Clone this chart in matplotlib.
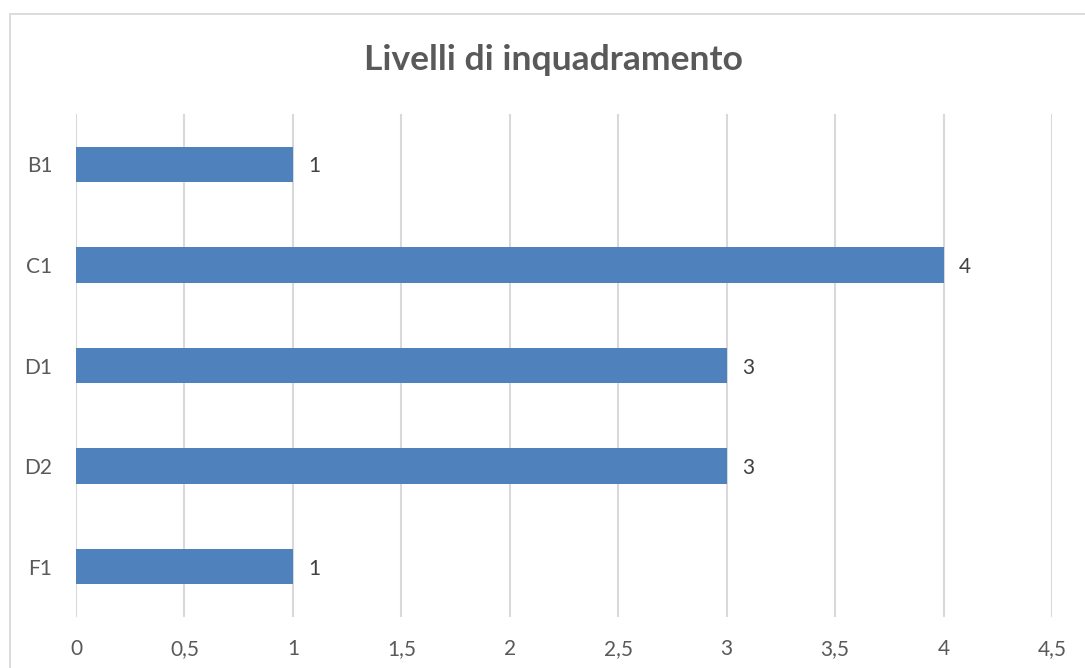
import matplotlib
matplotlib.use("Agg")
import matplotlib.pyplot as plt
from matplotlib.patches import Rectangle
from matplotlib.ticker import FuncFormatter

categories = ["B1", "C1", "D1", "D2", "F1"]
values = [1, 4, 3, 3, 1]
xticks = [0, 0.5, 1, 1.5, 2, 2.5, 3, 3.5, 4, 4.5]
title = "Livelli di inquadramento"

plt.rcParams['font.family'] = ['Lato', 'DejaVu Sans']

fig = plt.figure(figsize=(10.85, 6.68), dpi=100)
fig.patch.set_facecolor('white')
fig.patches.append(Rectangle((10/1085, -0.1), 1.2, 1 - 14/668 + 0.1, transform=fig.transFigure,
                             fill=False, edgecolor='#d9d9d9', linewidth=1.3))

ax = fig.add_axes([76/1085, 1 - 617/668, (1052-76)/1085, (617-114)/668])
ypos = list(range(len(categories)))
ax.barh(ypos, values, height=0.35, color='#4f81bd', zorder=3)
for y, v in zip(ypos, values):
    ax.text(v + 0.07, y + 0.02, f"{v}", va='center', ha='left', fontsize=15, color='#404040')

ax.set_xlim(0, 4.5)
ax.set_ylim(len(categories) - 0.5, -0.5)
ax.set_yticks(ypos)
ax.set_yticklabels(categories)
ax.set_xticks(xticks)
ax.xaxis.set_major_formatter(FuncFormatter(lambda x, p: (f"{x:g}").replace('.', ',')))
ax.grid(axis='x', color='#d9d9d9', linewidth=1.5, zorder=0)
ax.grid(axis='y', visible=False)
for s in ax.spines.values():
    s.set_visible(False)
ax.tick_params(axis='both', length=0, labelsize=15, labelcolor='#595959')
ax.tick_params(axis='x', pad=16)
ax.tick_params(axis='y', pad=17)

fig.text(553/1085, 1 - 60/668, title, ha='center', va='center', fontsize=25.5, fontweight='bold', color='#595959')

fig.savefig('out.png', dpi=100)
